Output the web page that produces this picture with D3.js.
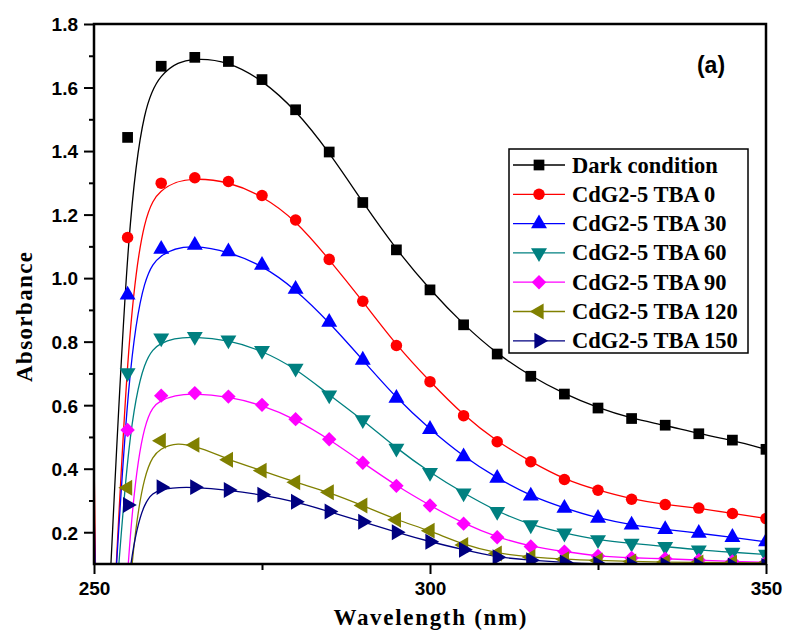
<!DOCTYPE html>
<html>
<head>
<meta charset="utf-8">
<script src="https://cdnjs.cloudflare.com/ajax/libs/d3/7.8.5/d3.min.js"></script>
<style>
  html, body { margin: 0; padding: 0; background: #fff; }
  svg { display: block; }
</style>
</head>
<body>
<svg id="chart" width="786" height="632"></svg>
<script>
// ---------------- data ----------------
const wavelengths = [255, 260, 265, 270, 275, 280, 285, 290, 295, 300, 305, 310, 315, 320, 325, 330, 335, 340, 345, 350];

const seriesNames = ["Dark condition", "CdG2-5 TBA 0", "CdG2-5 TBA 30", "CdG2-5 TBA 60", "CdG2-5 TBA 90", "CdG2-5 TBA 120", "CdG2-5 TBA 150"];

const darkCondition = [1.443, 1.667, 1.695, 1.682, 1.625, 1.530, 1.397, 1.238, 1.089, 0.963, 0.853, 0.761, 0.691, 0.635, 0.591, 0.558, 0.537, 0.510, 0.490, 0.461];
const tba0   = [1.128, 1.299, 1.316, 1.304, 1.260, 1.183, 1.059, 0.927, 0.788, 0.674, 0.567, 0.485, 0.422, 0.366, 0.332, 0.304, 0.287, 0.276, 0.259, 0.243];
const tba30  = [0.947, 1.091, 1.104, 1.083, 1.041, 0.965, 0.861, 0.742, 0.622, 0.524, 0.438, 0.370, 0.314, 0.276, 0.244, 0.223, 0.209, 0.197, 0.184, 0.170];
const tba60  = [0.702, 0.811, 0.816, 0.805, 0.772, 0.716, 0.632, 0.554, 0.464, 0.388, 0.323, 0.265, 0.223, 0.197, 0.176, 0.165, 0.155, 0.144, 0.137, 0.130];
const tba90  = [0.522, 0.630, 0.638, 0.627, 0.601, 0.556, 0.493, 0.419, 0.346, 0.284, 0.227, 0.184, 0.155, 0.139, 0.125, 0.119, 0.117, 0.112, 0.108, 0.105];
const tba120 = [0.340, 0.488, 0.475, 0.428, 0.394, 0.357, 0.326, 0.284, 0.239, 0.205, 0.160, 0.133, 0.122, 0.115, 0.111, 0.108, 0.106, 0.105, 0.104, 0.103];
const tba150 = [0.286, 0.342, 0.342, 0.333, 0.318, 0.296, 0.265, 0.233, 0.200, 0.170, 0.145, 0.121, 0.112, 0.105, 0.100, 0.098, 0.097, 0.096, 0.095, 0.094];

// leading part of each trace (at the 250 nm edge and the dip just after it, below the axis)
const edgeWavelengths = [250, 251];
const edgeValues = [0.0, 0.45, 0.30, 0.20, 0.12, 0.0, 0.0];
const dipValues  = [-0.8, -1.2, -1.0, -0.9, -2.0, -2.0, -1.2];

const xTicks = [250, 300, 350];
const xMinorTicks = [275, 325];
const yTicks = [0.2, 0.4, 0.6, 0.8, 1.0, 1.2, 1.4, 1.6, 1.8];
const yMinorTicks = [0.3, 0.5, 0.7, 0.9, 1.1, 1.3, 1.5, 1.7];

const colors = ["#000000", "#ff0000", "#0000ff", "#008080", "#ff00ff", "#808000", "#000080"];
const markerKinds = ["square", "circle", "up", "down", "diamond", "left", "right"];

// ---------------- layout ----------------
const svg = d3.select("#chart");
const L = 94, R = 766, T = 24, B = 564;

const x = d3.scaleLinear().domain([250, 350]).range([L, R]);
const y = d3.scaleLinear().domain([0.1, 1.8]).range([B, T]);

const allSeries = [darkCondition, tba0, tba30, tba60, tba90, tba120, tba150];

svg.append("defs").append("clipPath").attr("id", "plotClip")
  .append("rect").attr("x", L).attr("y", T).attr("width", R - L).attr("height", B - T);

function markerPath(kind) {
  if (kind === "square") return d3.symbol(d3.symbolSquare, 115)();
  if (kind === "circle") return d3.symbol(d3.symbolCircle, 104)();
  if (kind === "diamond") return d3.symbol(d3.symbolSquare, 104)();
  return d3.symbol(d3.symbolTriangle, 110)();
}
function markerRot(kind) {
  return { down: 180, left: -90, right: 90, diamond: 45 }[kind] || 0;
}

const plot = svg.append("g").attr("clip-path", "url(#plotClip)");

const line = d3.line().x(d => x(d[0])).y(d => y(d[1])).curve(d3.curveBasis);

allSeries.forEach((vals, i) => {
  const pts = [[edgeWavelengths[0], edgeValues[i]], [edgeWavelengths[1], dipValues[i]]]
    .concat(wavelengths.map((w, j) => [w, vals[j]]));
  plot.append("path").attr("d", line(pts))
    .attr("fill", "none").attr("stroke", colors[i]).attr("stroke-width", 1.3);
});

allSeries.forEach((vals, i) => {
  plot.selectAll(null).data(wavelengths.map((w, j) => [w, vals[j]]))
    .enter().append("path")
    .attr("d", markerPath(markerKinds[i]))
    .attr("transform", d => `translate(${x(d[0])},${y(d[1])}) rotate(${markerRot(markerKinds[i])})`)
    .attr("fill", colors[i]);
});

// ---------------- axes ----------------
const axisColor = "#000";
const tickFont = "'Liberation Sans', Arial, sans-serif";

const xAxis = d3.axisBottom(x).tickValues(xTicks).tickSize(10).tickFormat(d3.format("d"));
const gx = svg.append("g").attr("transform", `translate(0,${B})`).call(xAxis);
gx.select(".domain").remove();
gx.selectAll(".tick line").attr("stroke", axisColor).attr("stroke-width", 2);
gx.selectAll(".tick text").attr("font-family", tickFont).attr("font-weight", "bold")
  .attr("font-size", "19px").attr("fill", "#000").attr("y", 18).attr("dy", "0.71em");
const gxm = svg.append("g").attr("transform", `translate(0,${B})`)
  .call(d3.axisBottom(x).tickValues(xMinorTicks).tickSize(6).tickFormat(""));
gxm.select(".domain").remove();
gxm.selectAll(".tick line").attr("stroke", axisColor).attr("stroke-width", 2);

const yAxis = d3.axisLeft(y).tickValues(yTicks).tickSize(10).tickFormat(d3.format(".1f"));
const gy = svg.append("g").attr("transform", `translate(${L},0)`).call(yAxis);
gy.select(".domain").remove();
gy.selectAll(".tick line").attr("stroke", axisColor).attr("stroke-width", 2);
gy.selectAll(".tick text").attr("font-family", tickFont).attr("font-weight", "bold")
  .attr("font-size", "19px").attr("fill", "#000").attr("x", -16).attr("dy", "0.36em");
const gym = svg.append("g").attr("transform", `translate(${L},0)`)
  .call(d3.axisLeft(y).tickValues(yMinorTicks).tickSize(5).tickFormat(""));
gym.select(".domain").remove();
gym.selectAll(".tick line").attr("stroke", axisColor).attr("stroke-width", 2);

// frame
svg.append("rect").attr("x", L).attr("y", T).attr("width", R - L).attr("height", B - T)
  .attr("fill", "none").attr("stroke", axisColor).attr("stroke-width", 2.5);

// axis titles
const serif = "'Liberation Serif', 'Times New Roman', serif";
svg.append("text").attr("x", 430).attr("y", 625).attr("text-anchor", "middle")
  .attr("font-family", serif).attr("font-weight", "bold").attr("font-size", "23px")
  .attr("textLength", 193).attr("lengthAdjust", "spacing")
  .text("Wavelength (nm)");
svg.append("text").attr("transform", "translate(32,317) rotate(-90)").attr("text-anchor", "middle")
  .attr("font-family", serif).attr("font-weight", "bold").attr("font-size", "23px")
  .attr("textLength", 130).attr("lengthAdjust", "spacing")
  .text("Absorbance");

// panel label
svg.append("text").attr("x", 711).attr("y", 73).attr("text-anchor", "middle")
  .attr("font-family", tickFont).attr("font-weight", "bold").attr("font-size", "23px")
  .text("(a)");

// ---------------- legend ----------------
const lg = svg.append("g");
lg.append("rect").attr("x", 509).attr("y", 149).attr("width", 239).attr("height", 204)
  .attr("fill", "#fff").attr("stroke", "#000").attr("stroke-width", 1.5);
const rowY0 = 165, rowStep = 29.3;
seriesNames.forEach((name, i) => {
  const cy = rowY0 + i * rowStep;
  lg.append("line").attr("x1", 513).attr("x2", 565).attr("y1", cy).attr("y2", cy)
    .attr("stroke", colors[i]).attr("stroke-width", 1.3);
  lg.append("path").attr("d", markerPath(markerKinds[i]))
    .attr("transform", `translate(539,${cy}) rotate(${markerRot(markerKinds[i])})`)
    .attr("fill", colors[i]);
  lg.append("text").attr("x", 572).attr("y", cy + 7.5)
    .attr("font-family", serif).attr("font-weight", "bold").attr("font-size", "22.5px")
    .attr("fill", "#000").text(name);
});
</script>
</body>
</html>
